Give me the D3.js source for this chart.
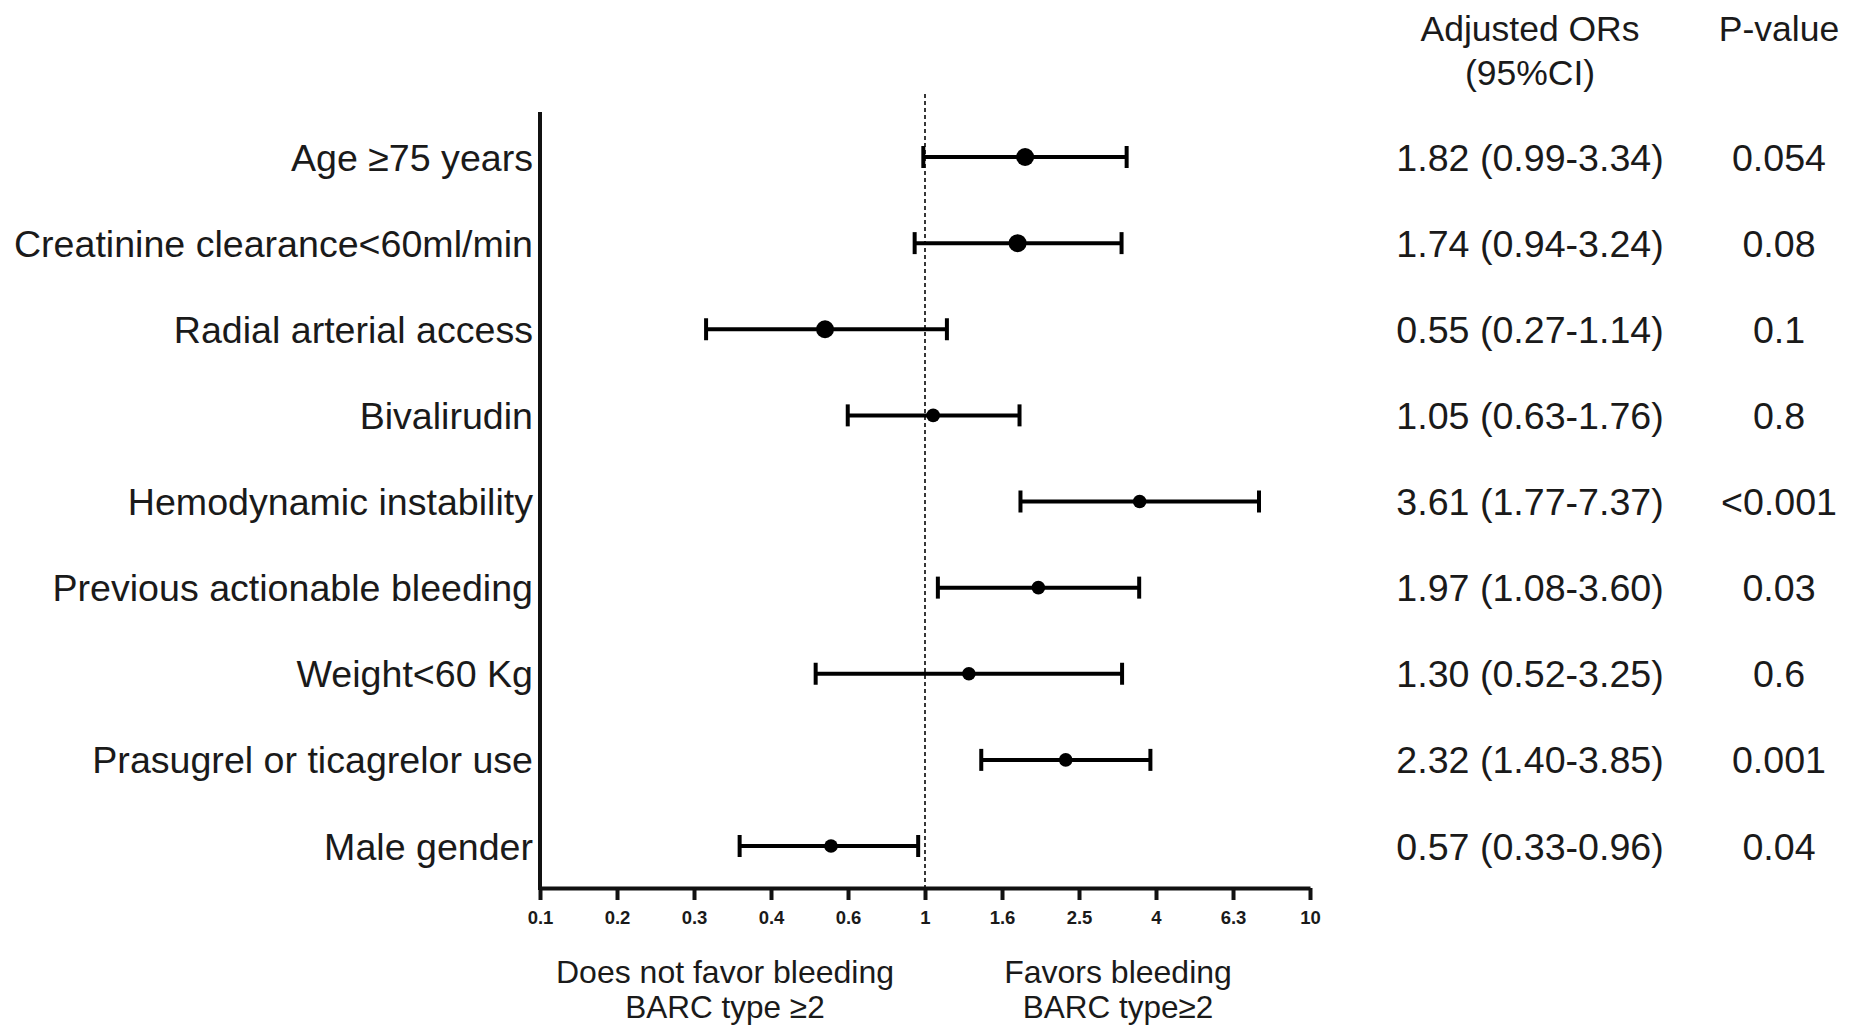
<!DOCTYPE html>
<html>
<head>
<meta charset="utf-8">
<script src="https://cdn.jsdelivr.net/npm/d3@7"></script>
<style>
  html, body { margin: 0; padding: 0; background: #fff; }
  svg { display: block; }
  text { font-family: "Liberation Sans", Arial, sans-serif; fill: #1a1a1a; }
</style>
</head>
<body>
<svg id="chart" width="1852" height="1027"></svg>
<script>
// ---- data ----
const categories = [
  "Age \u226575 years",
  "Creatinine clearance<60ml/min",
  "Radial arterial access",
  "Bivalirudin",
  "Hemodynamic instability",
  "Previous actionable bleeding",
  "Weight<60 Kg",
  "Prasugrel or ticagrelor use",
  "Male gender"
];
const orValues = [1.82, 1.74, 0.55, 1.05, 3.61, 1.97, 1.30, 2.32, 0.57];
const ciLower  = [0.99, 0.94, 0.27, 0.63, 1.77, 1.08, 0.52, 1.40, 0.33];
const ciUpper  = [3.34, 3.24, 1.14, 1.76, 7.37, 3.60, 3.25, 3.85, 0.96];
const orText   = ["1.82 (0.99-3.34)", "1.74 (0.94-3.24)", "0.55 (0.27-1.14)", "1.05 (0.63-1.76)",
                  "3.61 (1.77-7.37)", "1.97 (1.08-3.60)", "1.30 (0.52-3.25)", "2.32 (1.40-3.85)",
                  "0.57 (0.33-0.96)"];
const pValues  = ["0.054", "0.08", "0.1", "0.8", "<0.001", "0.03", "0.6", "0.001", "0.04"];
const tickValues = [0.1, 0.1585, 0.2512, 0.3981, 0.6310, 1, 1.585, 2.512, 3.981, 6.310, 10];
const tickLabels = ["0.1", "0.2", "0.3", "0.4", "0.6", "1", "1.6", "2.5", "4", "6.3", "10"];

// ---- layout ----
const svg = d3.select("#chart");
const x0 = 540, x1 = 1310, axisY = 888, axisTop = 112;
const x = d3.scaleLog().domain([0.1, 10]).range([x0, x1]);
const y = d3.scalePoint().domain(categories).range([157, 846]);

const rows = categories.map((c, i) => ({
  cat: c, or: orValues[i], lo: ciLower[i], hi: ciUpper[i], txt: orText[i], p: pValues[i], i
}));

// reference dashed line at OR = 1
svg.append("line")
  .attr("x1", x(1)).attr("x2", x(1))
  .attr("y1", 94).attr("y2", axisY)
  .attr("stroke", "#222").attr("stroke-width", 1.8)
  .attr("stroke-dasharray", "4,3");

// x axis
const xAxis = d3.axisBottom(x)
  .tickValues(tickValues)
  .tickFormat((d, i) => tickLabels[i])
  .tickSize(12)
  .tickSizeOuter(0)
  .tickPadding(11);
const gx = svg.append("g").attr("transform", `translate(0,${axisY})`).call(xAxis);
gx.select(".domain").attr("stroke", "#111").attr("stroke-width", 4);
gx.selectAll(".tick line").attr("stroke", "#111").attr("stroke-width", 4);
gx.selectAll(".tick text")
  .attr("font-family", "'Liberation Sans', Arial, sans-serif")
  .attr("font-size", 18.5).attr("font-weight", "bold").attr("fill", "#1a1a1a")
  .attr("dy", "0.71em");

// y axis (vertical line + labels)
svg.append("line")
  .attr("x1", x0).attr("x2", x0)
  .attr("y1", axisTop).attr("y2", axisY + 2)
  .attr("stroke", "#111").attr("stroke-width", 4);

svg.append("g").selectAll("text").data(rows).join("text")
  .attr("x", 533).attr("y", d => y(d.cat) + 13.5)
  .attr("text-anchor", "end").attr("font-size", 37.6)
  .text(d => d.cat);

// error bars
const g = svg.append("g");
g.selectAll("line.ci").data(rows).join("line").attr("class", "ci")
  .attr("x1", d => x(d.lo)).attr("x2", d => x(d.hi))
  .attr("y1", d => y(d.cat)).attr("y2", d => y(d.cat))
  .attr("stroke", "#000").attr("stroke-width", 4);
g.selectAll("line.capL").data(rows).join("line").attr("class", "capL")
  .attr("x1", d => x(d.lo)).attr("x2", d => x(d.lo))
  .attr("y1", d => y(d.cat) - 11).attr("y2", d => y(d.cat) + 11)
  .attr("stroke", "#000").attr("stroke-width", 4);
g.selectAll("line.capR").data(rows).join("line").attr("class", "capR")
  .attr("x1", d => x(d.hi)).attr("x2", d => x(d.hi))
  .attr("y1", d => y(d.cat) - 11).attr("y2", d => y(d.cat) + 11)
  .attr("stroke", "#000").attr("stroke-width", 4);
g.selectAll("circle").data(rows).join("circle")
  .attr("cx", d => x(d.or)).attr("cy", d => y(d.cat))
  .attr("r", d => d.i < 3 ? 9 : 6.8)
  .attr("fill", "#000");

// right-hand columns
const orX = 1530, pX = 1779;
svg.append("text").attr("x", orX).attr("y", 41).attr("text-anchor", "middle")
  .attr("font-size", 35.5).text("Adjusted ORs");
svg.append("text").attr("x", orX).attr("y", 85).attr("text-anchor", "middle")
  .attr("font-size", 35.5).text("(95%CI)");
svg.append("text").attr("x", pX).attr("y", 41).attr("text-anchor", "middle")
  .attr("font-size", 35.5).text("P-value");

svg.append("g").selectAll("text").data(rows).join("text")
  .attr("x", orX).attr("y", d => y(d.cat) + 13.5)
  .attr("text-anchor", "middle").attr("font-size", 37.6)
  .text(d => d.txt);
svg.append("g").selectAll("text").data(rows).join("text")
  .attr("x", pX).attr("y", d => y(d.cat) + 13.5)
  .attr("text-anchor", "middle").attr("font-size", 37.6)
  .text(d => d.p);

// bottom direction labels
const leftC = 725, rightC = 1118;
svg.append("text").attr("x", leftC).attr("y", 983).attr("text-anchor", "middle")
  .attr("font-size", 32).text("Does not favor bleeding");
svg.append("text").attr("x", leftC).attr("y", 1018).attr("text-anchor", "middle")
  .attr("font-size", 31.5).text("BARC type \u22652");
svg.append("text").attr("x", rightC).attr("y", 983).attr("text-anchor", "middle")
  .attr("font-size", 32).text("Favors bleeding");
svg.append("text").attr("x", rightC).attr("y", 1018).attr("text-anchor", "middle")
  .attr("font-size", 31.5).text("BARC type\u22652");
</script>
</body>
</html>
